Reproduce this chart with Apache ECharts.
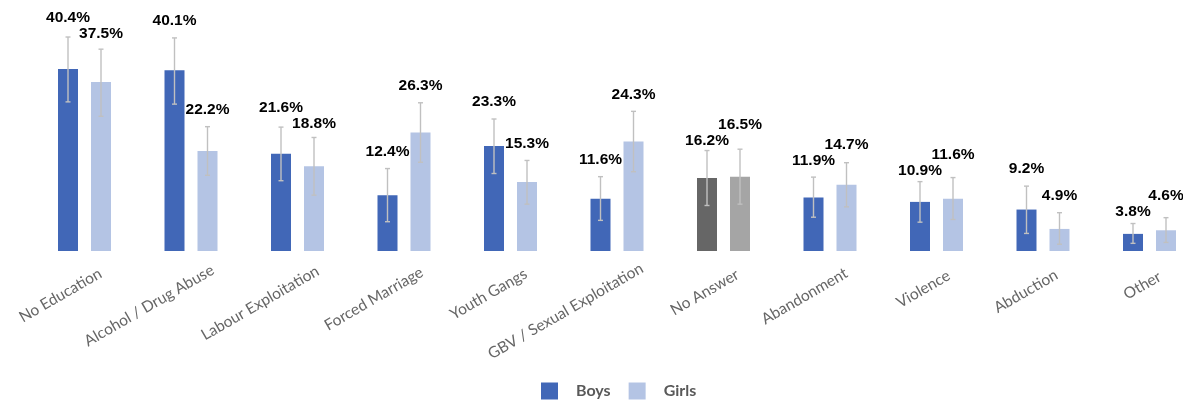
<!DOCTYPE html>
<html>
<head>
<meta charset="utf-8">
<script src="https://cdn.jsdelivr.net/npm/echarts@6/dist/echarts.min.js"></script>
<style>
  html, body { margin: 0; padding: 0; background: #ffffff; }
  #chart { width: 1183px; height: 403px; }
</style>
</head>
<body>
<div id="chart"></div>
<script>
// Reasons reported, share of respondents (%) by gender, with confidence intervals
const categories = ['No Education', 'Alcohol / Drug Abuse', 'Labour Exploitation', 'Forced Marriage',
  'Youth Gangs', 'GBV / Sexual Exploitation', 'No Answer', 'Abandonment', 'Violence', 'Abduction', 'Other'];
const boys      = [40.4, 40.1, 21.6, 12.4, 23.3, 11.6, 16.2, 11.9, 10.9, 9.2, 3.8];
const boysLow   = [33.1, 32.6, 15.6,  6.5, 17.2,  6.8, 10.1,  7.5,  6.4, 3.9, 1.7];
const boysHigh  = [47.5, 47.3, 27.5, 18.3, 29.3, 16.5, 22.3, 16.4, 15.4, 14.4, 6.1];
const girls     = [37.5, 22.2, 18.8, 26.3, 15.3, 24.3, 16.5, 14.7, 11.6, 4.9, 4.6];
const girlsLow  = [29.9, 16.8, 12.4, 19.7, 10.4, 17.6, 10.4,  9.8,  7.0, 1.5, 1.9];
const girlsHigh = [44.8, 27.6, 25.2, 32.9, 20.1, 31.0, 22.6, 19.6, 16.3, 8.5, 7.4];
const neutralCategory = 'No Answer';

const BOYS_COLOR = '#4167b7';
const GIRLS_COLOR = '#b4c4e4';
const BOYS_GREY = '#666666';
const GIRLS_GREY = '#a5a5a5';
const BAR_W = 20;
const BAR_GAP_PX = 13;
const HALF_STEP = (BAR_W + BAR_GAP_PX) / 2;

const CAT_FONT = '15.5px Lato, "Open Sans", sans-serif';
const VALUE_FONT = 'bold 15.5px "Liberation Sans", Arial, sans-serif';
const LABEL_LIFT = 17;     // label centre above whisker top
const LABEL_SPACING = 16;  // minimum vertical spacing of the two labels in a group

const measureCtx = document.createElement('canvas').getContext('2d');
function textWidth(str, font) {
  measureCtx.font = font;
  return measureCtx.measureText(str).width;
}

function barData(values, grey) {
  return values.map((v, i) => categories[i] === neutralCategory
    ? { value: v, itemStyle: { color: grey } }
    : v);
}

// Error whiskers with small caps
function whiskerSeries(name, low, high, dx) {
  return {
    name: name + ' CI',
    type: 'custom',
    z: 5,
    silent: true,
    data: low.map((l, i) => [i, l, high[i]]),
    renderItem: function (params, api) {
      const i = api.value(0);
      const top = api.coord([i, api.value(2)]);
      const bot = api.coord([i, api.value(1)]);
      const x = top[0] + dx;
      const cap = 2.5;
      const st = { stroke: '#c0c0c0', lineWidth: 1.4 };
      return {
        type: 'group',
        children: [
          { type: 'line', shape: { x1: x, y1: top[1], x2: x, y2: bot[1] }, style: st },
          { type: 'line', shape: { x1: x - cap, y1: top[1], x2: x + cap, y2: top[1] }, style: st },
          { type: 'line', shape: { x1: x - cap, y1: bot[1], x2: x + cap, y2: bot[1] }, style: st }
        ]
      };
    }
  };
}

// Value labels above the whiskers; when a pair would collide they are spread apart vertically
const valueLabels = {
  name: 'value labels',
  type: 'custom',
  z: 6,
  silent: true,
  data: categories.map((c, i) => [i, boys[i], girls[i], boysHigh[i], girlsHigh[i]]),
  renderItem: function (params, api) {
    const i = api.value(0);
    const pb = api.coord([i, api.value(3)]);
    const pg = api.coord([i, api.value(4)]);
    let yb = pb[1] - LABEL_LIFT;
    let yg = pg[1] - LABEL_LIFT;
    if (Math.abs(yb - yg) < LABEL_SPACING) {
      const mid = (yb + yg) / 2;
      const boysAbove = yb < yg;
      yb = mid + (boysAbove ? -1 : 1) * LABEL_SPACING / 2;
      yg = mid + (boysAbove ? 1 : -1) * LABEL_SPACING / 2;
    }
    const txt = (x, y, v) => ({
      type: 'text', x: x, y: y,
      style: {
        text: v.toFixed(1) + '%', fill: '#000000', font: VALUE_FONT,
        align: 'center', verticalAlign: 'middle'
      }
    });
    return {
      type: 'group',
      children: [
        txt(pb[0] - HALF_STEP, yb, api.value(1)),
        txt(pg[0] + HALF_STEP, yg, api.value(2))
      ]
    };
  }
};

// Slanted category names under each group; longer names reach a little further along their slant
const ANGLE = 30 * Math.PI / 180;
const categoryLabels = {
  name: 'category labels',
  type: 'custom',
  silent: true,
  data: categories.map((c, i) => [i, 0]),
  renderItem: function (params, api) {
    const i = api.value(0);
    const p = api.coord([i, 0]);
    const label = categories[i];
    const d = 0.124 * textWidth(label, CAT_FONT);
    return {
      type: 'text',
      x: p[0] + 6 + d * Math.cos(ANGLE),
      y: p[1] + 27 - d * Math.sin(ANGLE),
      rotation: ANGLE,
      style: {
        text: label,
        fill: '#666666',
        font: CAT_FONT,
        align: 'right',
        verticalAlign: 'middle'
      }
    };
  }
};

const chart = echarts.init(document.getElementById('chart'), null, { renderer: 'canvas' });
chart.setOption({
  animation: false,
  backgroundColor: '#ffffff',
  grid: { left: 31.25, width: 1171.5, top: 25.75, bottom: 152, outerBoundsMode: 'none', containLabel: false },
  legend: {
    bottom: 3.5,
    left: 541,
    padding: 0,
    data: ['Boys', 'Girls'],
    itemWidth: 17,
    itemHeight: 17,
    itemGap: 18,
    icon: 'rect',
    textStyle: { color: '#595959', fontSize: 16, fontWeight: 'bold', fontFamily: 'Lato', padding: [0, 0, 0, 13] }
  },
  xAxis: {
    type: 'category',
    data: categories,
    axisLine: { show: false },
    axisTick: { show: false },
    axisLabel: { show: false }
  },
  yAxis: { type: 'value', min: 0, max: 50, show: false, splitLine: { show: false } },
  series: [
    { name: 'Boys', type: 'bar', barWidth: BAR_W, barGap: (BAR_GAP_PX / BAR_W * 100) + '%',
      itemStyle: { color: BOYS_COLOR }, data: barData(boys, BOYS_GREY) },
    { name: 'Girls', type: 'bar', barWidth: BAR_W,
      itemStyle: { color: GIRLS_COLOR }, data: barData(girls, GIRLS_GREY) },
    whiskerSeries('Boys', boysLow, boysHigh, -HALF_STEP),
    whiskerSeries('Girls', girlsLow, girlsHigh, HALF_STEP),
    valueLabels,
    categoryLabels
  ]
});
</script>
</body>
</html>
